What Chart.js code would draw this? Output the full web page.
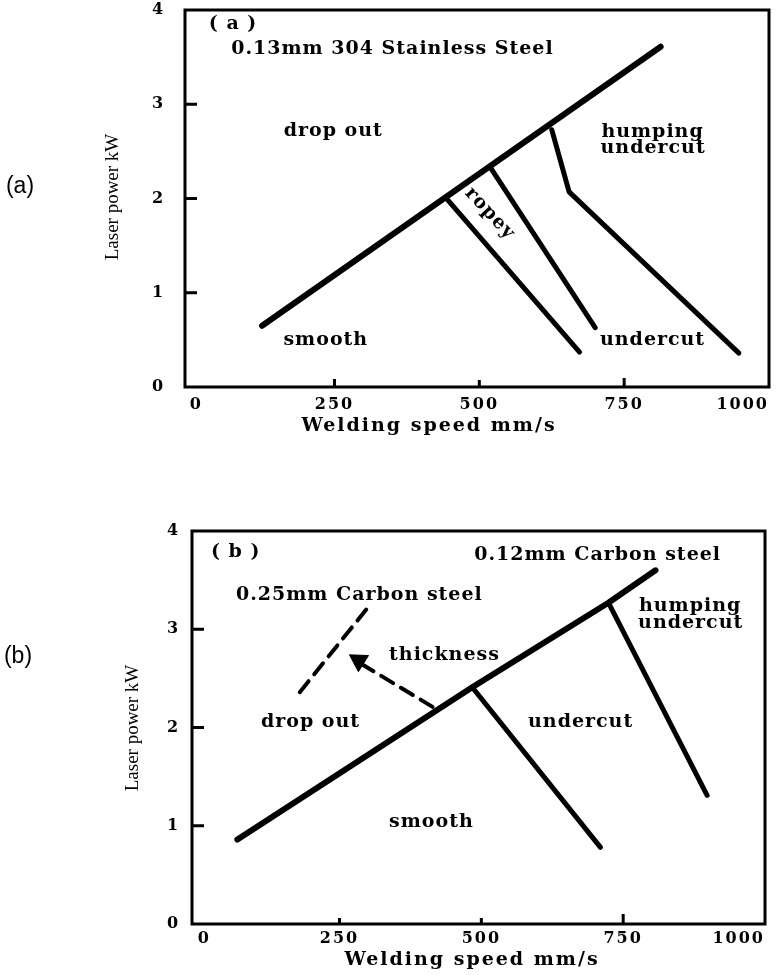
<!DOCTYPE html>
<html>
<head>
<meta charset="utf-8">
<script src="https://cdn.jsdelivr.net/npm/chart.js@4/dist/chart.umd.min.js"></script>
<style>
  body { margin: 0; background: #fff; }
  canvas { position: absolute; left: 0; }
  #chartA { top: 0; }
  #chartB { top: 470px; }
</style>
</head>
<body>
<canvas id="chartA" width="777" height="470"></canvas>
<canvas id="chartB" width="777" height="505"></canvas>
<script>
// Axis ticks (shared)
const speedTicks = [0, 250, 500, 750, 1000];
const powerTicks = [0, 1, 2, 3, 4];

// (a) 0.13mm 304 stainless steel, points are [speed mm/s, power kW]
const aDropOutLimit = [[125, 0.65], [813, 3.61]];
const aSmoothLimit = [[442, 2.01], [673, 0.37]];
const aRopeyLimit = [[519, 2.33], [700, 0.63]];
const aHumpingLimit = [[625, 2.73], [655, 2.07], [948, 0.36]];

// (b) 0.12mm carbon steel
const bDropOutLimit = [[70, 0.86], [484, 2.41], [724, 3.27], [807, 3.60]];
const bSmoothLimit = [[484, 2.41], [710, 0.78]];
const bHumpingLimit = [[724, 3.27], [898, 1.31]];
// 0.25mm carbon steel (dashed) and the thickness arrow
const bThickLimit = [[180, 2.36], [304, 3.25]];
const bArrow = [[414, 2.21], [282, 2.67]];
const bArrowHead = [[284, 2.68]];

// Region labels: [text, speed, power]
const notesA = [
    ['( a )', 75, 3.85],
    ['0.13mm 304 Stainless Steel', 350, 3.59],
    ['drop out', 248, 2.72],
    ['humping', 799, 2.71],
    ['undercut', 800, 2.54],
    ['smooth', 235, 0.50],
    ['undercut', 799, 0.50]
];
const rotatedNotesA = [['ropey', 518, 1.84, 47]];
const notesB = [
    ['( b )', 67, 3.79],
    ['0.12mm Carbon steel', 705, 3.76],
    ['0.25mm Carbon steel', 285, 3.35],
    ['humping', 868, 3.24],
    ['undercut', 869, 3.06],
    ['thickness', 435, 2.74],
    ['drop out', 199, 2.06],
    ['undercut', 675, 2.06],
    ['smooth', 412, 1.04]
];

const toXY = pts => pts.map(p => ({ x: p[0], y: p[1] }));

function lineSet(pts, width, dash) {
    return {
        data: toXY(pts),
        borderColor: '#000',
        borderWidth: width,
        borderDash: dash || [],
        borderCapStyle: 'round',
        borderJoinStyle: 'round',
        pointRadius: 0,
        fill: false,
        tension: 0
    };
}

const labelFont = 'bold 19px "DejaVu Serif"';

// Frame, inward tick marks, titles and region labels
const framePlugin = {
    id: 'frame',
    beforeDraw(chart) {
        chart.ctx.letterSpacing = '2px';
    },
    afterDraw(chart, args, opts) {
        const { ctx, chartArea: ca, scales: { x, y } } = chart;
        ctx.save();
        ctx.strokeStyle = '#000';
        ctx.fillStyle = '#000';
        ctx.lineWidth = 3;
        ctx.strokeRect(ca.left, ca.top, ca.right - ca.left, ca.bottom - ca.top);

        ctx.beginPath();
        [1, 2, 3].forEach(v => {
            const py = y.getPixelForValue(v);
            ctx.moveTo(ca.left, py);
            ctx.lineTo(ca.left + opts.yMark, py);
        });
        [250, 500, 750].forEach((v, i) => {
            const px = x.getPixelForValue(v);
            ctx.moveTo(px, ca.bottom);
            ctx.lineTo(px, ca.bottom - opts.xMarks[i]);
        });
        ctx.stroke();

        ctx.textAlign = 'center';
        ctx.textBaseline = 'middle';
        ctx.font = labelFont;
        ctx.letterSpacing = '1px';
        opts.notes.forEach(n => {
            ctx.fillText(n[0], x.getPixelForValue(n[1]), y.getPixelForValue(n[2]));
        });
        (opts.rotated || []).forEach(n => {
            ctx.save();
            ctx.translate(x.getPixelForValue(n[1]), y.getPixelForValue(n[2]));
            ctx.rotate(n[3] * Math.PI / 180);
            ctx.fillText(n[0], 0, 0);
            ctx.restore();
        });

        // axis titles
        ctx.letterSpacing = '2px';
        ctx.fillText('Welding speed mm/s', opts.xTitle[0], opts.xTitle[1]);
        ctx.letterSpacing = '0px';
        ctx.save();
        ctx.translate(opts.yTitle[0], opts.yTitle[1]);
        ctx.rotate(-Math.PI / 2);
        ctx.font = '19px "Liberation Serif"';
        ctx.fillText('Laser power kW', 0, 0);
        ctx.restore();

        // panel letter
        ctx.font = '23px "Liberation Sans"';
        ctx.fillText(opts.panel[0], opts.panel[1], opts.panel[2]);
        ctx.restore();
    }
};

const tickFont = { family: 'DejaVu Serif', size: 16, weight: 'bold' };

function makeChart(id, cfg) {
    return new Chart(document.getElementById(id), {
        type: 'line',
        data: { datasets: cfg.datasets },
        options: {
            responsive: false,
            animation: false,
            layout: { padding: cfg.padding },
            plugins: {
                legend: { display: false },
                tooltip: { enabled: false },
                frame: cfg.frame
            },
            scales: {
                x: {
                    type: 'linear',
                    min: cfg.xMin,
                    max: 1000,
                    afterBuildTicks: s => { s.ticks = speedTicks.map(v => ({ value: v })); },
                    afterFit: s => { s.height = cfg.xHeight; },
                    grid: { display: false, drawTicks: false },
                    border: { display: false },
                    ticks: {
                        align: 'inner',
                        padding: cfg.xPad,
                        color: '#000',
                        font: tickFont,
                        maxRotation: 0,
                        autoSkip: false,
                        callback: v => String(v)
                    }
                },
                y: {
                    type: 'linear',
                    min: 0,
                    max: 4,
                    afterBuildTicks: s => { s.ticks = powerTicks.map(v => ({ value: v })); },
                    afterFit: s => { s.width = cfg.yWidth; },
                    grid: { display: false, drawTicks: false },
                    border: { display: false },
                    ticks: {
                        crossAlign: 'far',
                        padding: 0,
                        color: '#000',
                        font: tickFont,
                        callback: v => String(v)
                    }
                }
            }
        },
        plugins: [framePlugin]
    });
}

makeChart('chartA', {
    padding: { left: 152, right: 6, top: 10, bottom: 0 },
    xMin: -8, xHeight: 83, xPad: 8, yWidth: 33,
    datasets: [
        lineSet(aDropOutLimit, 6),
        lineSet(aSmoothLimit, 5),
        lineSet(aRopeyLimit, 5),
        lineSet(aHumpingLimit, 5)
    ],
    frame: {
        yMark: 12, xMarks: [8, 7, 9],
        notes: notesA, rotated: rotatedNotesA,
        xTitle: [429, 426], yTitle: [113, 197], panel: ['(a)', 20, 187]
    }
});

makeChart('chartB', {
    padding: { left: 167, right: 5, top: 61, bottom: 0 },
    xMin: -10, xHeight: 51, xPad: 5, yWidth: 25,
    datasets: [
        lineSet(bDropOutLimit, 6),
        lineSet(bSmoothLimit, 5),
        lineSet(bHumpingLimit, 5),
        lineSet(bThickLimit, 4, [14, 9]),
        lineSet(bArrow, 4, [14, 9]),
        {
            data: toXY(bArrowHead),
            showLine: false,
            pointStyle: 'triangle',
            pointRadius: 11,
            pointRotation: -58,
            pointBackgroundColor: '#000',
            pointBorderColor: '#000',
            pointBorderWidth: 1
        }
    ],
    frame: {
        yMark: 12, xMarks: [6, 6, 10],
        notes: notesB,
        xTitle: [472, 490], yTitle: [133, 258], panel: ['(b)', 18, 187]
    }
});
</script>
</body>
</html>
